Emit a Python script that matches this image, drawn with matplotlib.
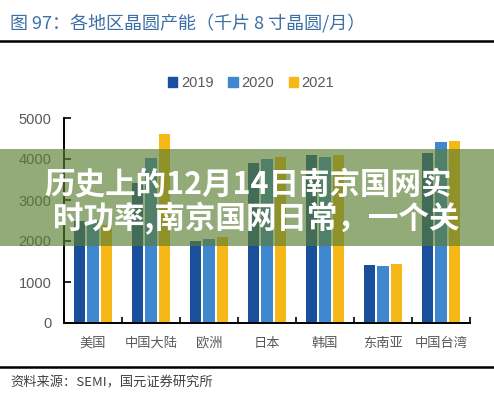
import numpy as np
import matplotlib
matplotlib.use('Agg')
import matplotlib.pyplot as plt
from matplotlib.lines import Line2D
from matplotlib.patches import Patch, Rectangle

plt.rcParams['font.family'] = ['Noto Sans CJK SC', 'DejaVu Sans']

# 数据
regions = ['美国', '中国大陆', '欧洲', '日本', '韩国', '东南亚', '中国台湾']
years = ['2019', '2020', '2021']
cap_2019 = [2500, 3420, 2000, 3910, 4100, 1410, 4150]
cap_2020 = [2480, 4020, 2050, 4000, 4060, 1400, 4410]
cap_2021 = [2400, 4600, 2100, 4060, 4090, 1450, 4440]
colors = ['#1a4f9c', '#3f87cf', '#f5b817']

title = '图 97：各地区晶圆产能（千片 8 寸晶圆/月）'
source = '资料来源：SEMI，国元证券研究所'
banner = ['历史上的12月14日南京国网实', '时功率,南京国网日常，一个关']

W, H = 494, 396
fig = plt.figure(figsize=(W / 100, H / 100), dpi=100)
fig.patch.set_facecolor('white')

ax = fig.add_axes([64 / W, 73 / H, 406 / W, 205 / H])
x = np.arange(len(regions))
step, width = 0.225, 0.19
for i, vals in enumerate([cap_2019, cap_2020, cap_2021]):
    ax.bar(x + (i - 1) * step, vals, width, color=colors[i], label=years[i], zorder=2)

ax.set_xlim(-0.5, len(regions) - 0.5)
ax.set_ylim(0, 5000)
ax.set_yticks(range(0, 5001, 1000))
ax.set_xticks(x)
ax.set_xticklabels(regions, color='#595959', fontsize=9.5)
ax.set_xticks(np.arange(-0.5, len(regions)), minor=True)
ax.tick_params(axis='x', which='major', length=0, pad=10)
ax.tick_params(axis='x', which='minor', direction='in', length=4, width=1.2)
ax.tick_params(axis='y', direction='in', length=5, width=1.2, pad=9,
               labelcolor='#595959')
for lab in ax.get_yticklabels():
    lab.set_family(['Liberation Sans', 'DejaVu Sans'])
    lab.set_fontsize(10.5)
for s in ['top', 'right']:
    ax.spines[s].set_visible(False)
for s in ['left', 'bottom']:
    ax.spines[s].set_linewidth(1.4)

handles = [Patch(color=c) for c in colors]
leg = fig.legend(handles, years, loc='center', bbox_to_anchor=(251 / W, 1 - 83 / H),
                 ncol=3, frameon=False, handlelength=0.65, handleheight=0.65,
                 handletextpad=0.25, columnspacing=1.0,
                 prop={'family': 'Liberation Sans', 'size': 10.5})
for t in leg.get_texts():
    t.set_color('#595959')

# 标题与来源
fig.text(10 / W, 1 - 23 / H, title, color='#3d6fa6', fontsize=13, fontweight='medium',
         va='center', ha='left')
fig.add_artist(Line2D([0, 1], [1 - 40.5 / H] * 2, color='black', lw=1.8))
fig.add_artist(Line2D([0, 1], [1 - 366.5 / H] * 2, color='black', lw=1.8))
fig.text(10 / W, 1 - 383 / H, source, color='#404040', fontsize=9.5, va='center', ha='left')

# 覆盖横幅
fig.add_artist(Rectangle((0, 1 - 246 / H), 1, 97 / H, transform=fig.transFigure,
                         facecolor='#5a7d32', alpha=0.65, edgecolor='none', zorder=5))
fig.text(248 / W, 1 - 184 / H, banner[0], color='white', fontsize=22, fontweight='black',
         ha='center', va='center', zorder=6)
fig.text(256 / W, 1 - 219 / H, banner[1], color='white', fontsize=22, fontweight='black',
         ha='center', va='center', zorder=6)

fig.savefig('out.png', dpi=100)
